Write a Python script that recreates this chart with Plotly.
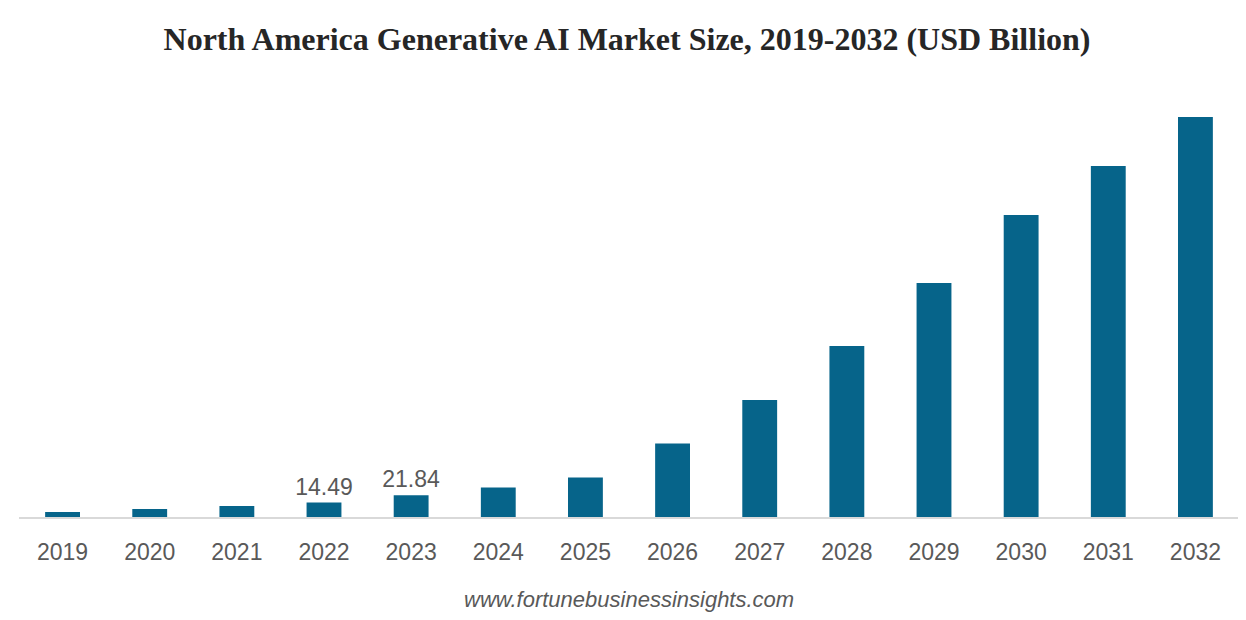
import plotly.graph_objects as go

years = ["2019", "2020", "2021", "2022", "2023", "2024", "2025", "2026",
         "2027", "2028", "2029", "2030", "2031", "2032"]
values = [5.1, 8.0, 11.0, 14.49, 21.84, 29.6, 39.6, 73.5,
          117.0, 171.0, 234.0, 302.0, 351.0, 400.0]
shown_labels = ["", "", "", "14.49", "21.84", "", "", "", "", "", "", "", "", ""]

W, H = 1238, 612          # page body has an 8px margin
ML, MR, MT, MB = 11, 7, 89, 103

fig = go.Figure()
fig.add_trace(go.Bar(
    x=years, y=values,
    marker=dict(color="#06648a", line=dict(width=0)),
    width=0.4,
    text=shown_labels,
    textposition="outside",
    constraintext="none",
    cliponaxis=False,
    textfont=dict(family="Liberation Sans, Arial, sans-serif", size=23, color="#595959"),
    hoverinfo="x+y",
))

plot_h = H - MT - MB
fig.update_layout(
    width=W, height=H,
    paper_bgcolor="white", plot_bgcolor="white",
    margin=dict(l=ML, r=MR, t=MT, b=MB),
    showlegend=False,
    title=dict(
        text="<b>North America Generative AI Market Size, 2019-2032 (USD Billion)</b>",
        x=0.5, xanchor="center", y=1 - 31 / H, yanchor="middle",
        font=dict(family="Liberation Serif, Times New Roman, serif", size=32, color="#262626"),
    ),
    xaxis=dict(
        type="category",
        showline=True, linecolor="#d9d9d9", linewidth=2,
        showgrid=False, zeroline=False,
        ticks="", ticklabelstandoff=13,
        tickfont=dict(family="Liberation Sans, Arial, sans-serif", size=23, color="#595959"),
    ),
    yaxis=dict(
        range=[0, 420], visible=False, showgrid=False, zeroline=False,
    ),
    annotations=[dict(
        text="<i>www.fortunebusinessinsights.com</i>",
        x=0.5, xref="paper", xanchor="center",
        y=(H - MB - 591) / plot_h, yref="paper", yanchor="middle",
        showarrow=False,
        font=dict(family="Liberation Sans, Arial, sans-serif", size=22, color="#595959"),
    )],
)

fig.write_html("out.html")
